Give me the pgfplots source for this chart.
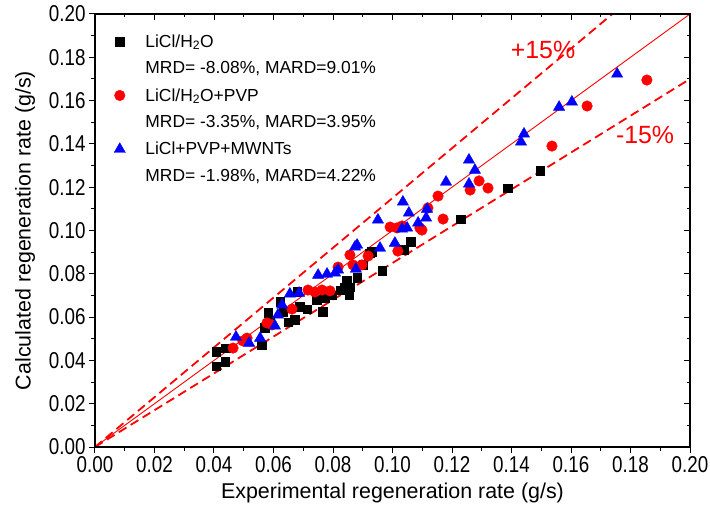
\documentclass[border=0pt]{standalone}
\usepackage{fontspec}
\setmainfont{Liberation Sans}
\newfontfamily\narrowfont[FakeStretch=0.82]{Liberation Sans}
\usepackage{pgfplots}
\pgfplotsset{compat=1.18}
\begin{document}
\begin{tikzpicture}
\useasboundingbox (-95bp,-63bp) rectangle (615bp,447bp);
\begin{axis}[
  at={(0,0)}, anchor=south west, scale only axis,
  width=595bp, height=433bp,
  xmin=0, xmax=0.2, ymin=0, ymax=0.2,
  xtick={0,0.02,0.04,0.06,0.08,0.10,0.12,0.14,0.16,0.18,0.20},
  ytick={0,0.02,0.04,0.06,0.08,0.10,0.12,0.14,0.16,0.18,0.20},
  minor tick num=1,
  tick align=outside, xtick pos=left, ytick pos=left,
  major tick length=6bp, minor tick length=3.5bp,
  every tick/.style={black, line width=1bp},
  axis line style={line width=1.3bp},
  /pgf/number format/.cd, fixed, fixed zerofill, precision=2, assume math mode=true,
  /pgfplots/.cd,
  ticklabel style={font=\narrowfont\fontsize{23}{23}\selectfont},
  xlabel={Experimental regeneration rate (g/s)},
  ylabel={Calculated regeneration rate (g/s)},
  label style={font=\fontsize{21.5}{25}\selectfont},
  xlabel style={at={(axis description cs:0.5,0)}, anchor=center, yshift=-46bp},
  ylabel style={at={(axis description cs:0,0.5)}, anchor=center, yshift=70bp},
  legend cell align=left,
  legend style={draw=none, fill=none, at={(0.022,0.962)}, anchor=north west,
    font=\fontsize{17.5}{20}\selectfont, row sep=9bp, column sep=18bp},
]
\addplot[red, line width=0.9bp, forget plot] coordinates {(0,0) (0.2,0.2)};
\addplot[red, line width=1.8bp, dash pattern=on 9bp off 5bp, forget plot] coordinates {(0,0) (0.17391,0.2)};
\addplot[red, line width=1.8bp, dash pattern=on 9bp off 5bp, forget plot] coordinates {(0,0) (0.2,0.17)};

\addplot[only marks, mark=square*, mark size=4.3bp, black] coordinates {
(0.0407,0.0439) (0.0407,0.0374) (0.0440,0.0457) (0.0437,0.0393) (0.0561,0.0471)
(0.0571,0.0550) (0.0582,0.0619) (0.0588,0.0577) (0.0622,0.0670) (0.0632,0.0624)
(0.0649,0.0577) (0.0672,0.0587) (0.0679,0.0716) (0.0689,0.0647) (0.0713,0.0637)
(0.0746,0.0679) (0.0766,0.0624) (0.0773,0.0688) (0.0797,0.0702) (0.0824,0.0725)
(0.0840,0.0739) (0.0854,0.0702) (0.0857,0.0739) (0.0881,0.0781) (0.0847,0.0771)
(0.0901,0.0841) (0.0924,0.0896) (0.0965,0.0813) (0.0931,0.0901) (0.1039,0.0910)
(0.1062,0.0947) (0.1230,0.1053) (0.1388,0.1196) (0.1496,0.1275)
};
\addlegendentry{LiCl/H\textsubscript{2}O}
\addlegendimage{empty legend}
\addlegendentry{MRD= -8.08\%, MARD=9.01\%}

\addplot[only marks, mark=*, mark size=5.3bp, red, mark options={draw=red, fill=red}] coordinates {
(0.0464,0.0457) (0.0497,0.0490) (0.0511,0.0503) (0.0578,0.0573) (0.0595,0.0564)
(0.0662,0.0637) (0.0716,0.0725) (0.0739,0.0716) (0.0763,0.0725) (0.0790,0.0721)
(0.0817,0.0831) (0.0857,0.0887) (0.0867,0.0841) (0.0897,0.0841) (0.0918,0.0882)
(0.0992,0.1016) (0.1015,0.1012) (0.1032,0.1021) (0.1092,0.1012) (0.1018,0.0905)
(0.1099,0.1002) (0.1119,0.1104) (0.1153,0.1159) (0.1170,0.1053) (0.1261,0.1187)
(0.1291,0.1229) (0.1321,0.1196) (0.1536,0.1390) (0.1654,0.1575) (0.1855,0.1695)
};
\addlegendentry{LiCl/H\textsubscript{2}O+PVP}
\addlegendimage{empty legend}
\addlegendentry{MRD= -3.35\%, MARD=3.95\%}

\addplot[only marks, mark=triangle*, mark size=6.5bp, blue, mark options={draw=blue, fill=blue}] coordinates {
(0.0474,0.0508) (0.0518,0.0480) (0.0555,0.0503) (0.0605,0.0559) (0.0615,0.0610)
(0.0629,0.0656) (0.0655,0.0707) (0.0686,0.0711) (0.0750,0.0794) (0.0780,0.0799)
(0.0807,0.0804) (0.0817,0.0818) (0.0877,0.0822) (0.0874,0.0924) (0.0881,0.0933)
(0.0958,0.0919) (0.1008,0.0942) (0.0951,0.1049) (0.1032,0.1007) (0.1049,0.1012)
(0.1086,0.1035) (0.1113,0.1058) (0.1116,0.1099) (0.1055,0.1081) (0.1035,0.1132)
(0.1180,0.1224) (0.1257,0.1215) (0.1257,0.1326) (0.1277,0.1279) (0.1432,0.1409)
(0.1442,0.1446) (0.1560,0.1570) (0.1603,0.1594) (0.1755,0.1723)
};
\addlegendentry{LiCl+PVP+MWNTs}
\addlegendimage{empty legend}
\addlegendentry{MRD= -1.98\%, MARD=4.22\%}

\node[red, font=\fontsize{25}{28}\selectfont] at (axis cs:0.1506,0.1834) {+15\%};
\node[red, font=\fontsize{25}{28}\selectfont] at (axis cs:0.1849,0.1441) {-15\%};
\end{axis}
\begin{axis}[
  at={(0,0)}, anchor=south west, scale only axis,
  width=595bp, height=433bp,
  xmin=0, xmax=0.2, ymin=0, ymax=0.2,
  xtick={0,0.02,0.04,0.06,0.08,0.10,0.12,0.14,0.16,0.18,0.20},
  ytick={0,0.02,0.04,0.06,0.08,0.10,0.12,0.14,0.16,0.18,0.20},
  minor tick num=1,
  tick align=inside, xtick pos=right, ytick pos=right,
  major tick length=6bp, minor tick length=3.5bp,
  every tick/.style={black, line width=1bp},
  axis line style={line width=1.3bp},
  xticklabels={}, yticklabels={},
]
\end{axis}
\end{tikzpicture}
\end{document}
